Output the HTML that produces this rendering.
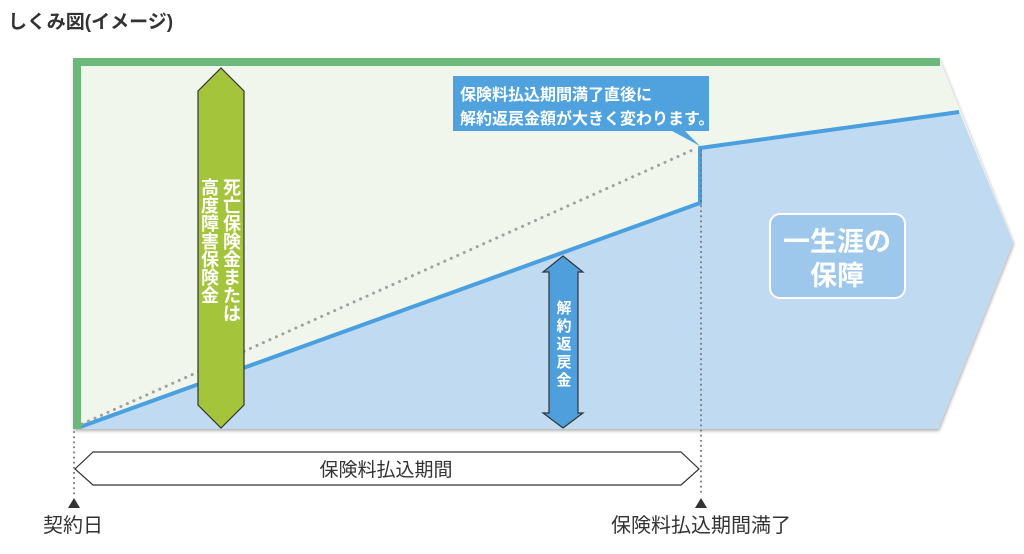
<!DOCTYPE html>
<html><head><meta charset="utf-8"><style>
html,body{margin:0;padding:0;background:#fff;width:1024px;height:554px;overflow:hidden}
svg{display:block}
text{font-family:"Liberation Sans","Noto Sans CJK JP",sans-serif}
</style></head><body>
<svg width="1024" height="554" viewBox="0 0 1024 554">
<defs><filter id="sh" x="-5%" y="-5%" width="110%" height="115%"><feDropShadow dx="1" dy="2" stdDeviation="1.5" flood-color="#000" flood-opacity="0.3"/></filter></defs>
<text x="8" y="28" font-size="19" font-weight="bold" fill="#333">しくみ図(イメージ)</text>
<polygon points="73,58 939,58 1013,242 938,429 73,429" fill="#f0f6ec" filter="url(#sh)"/>
<polygon points="80,428 700,203 700,148 959,111 1013,242 938,429 80,429" fill="#c0daf1"/>
<polyline points="80,427 700,203 700,148 959,112" fill="none" stroke="#4a9fde" stroke-width="4"/>
<line x1="82" y1="424" x2="697" y2="148" stroke="#a0a0a0" stroke-width="3" stroke-dasharray="0.1 7" stroke-linecap="round"/>
<rect x="73" y="58" width="867" height="8" fill="#6cb87a"/>
<rect x="73" y="58" width="8" height="371" fill="#6cb87a"/>
<polygon points="453,76 709,76 709,131 685,131 700,146 672,131 453,131" fill="#50a2de"/>
<text x="460" y="100" font-size="16" font-weight="bold" fill="#fff">保険料払込期間満了直後に</text>
<text x="460" y="124" font-size="16" font-weight="bold" fill="#fff">解約返戻金額が大きく変わります。</text>
<polygon points="221,68 244,91 244,405 221,428 198,405 198,91" fill="#a4c43c" stroke="#333" stroke-width="1.2"/>
<g font-size="18" font-weight="bold" fill="#fff" text-anchor="middle">
<text x="232" y="194">死</text><text x="232" y="212">亡</text><text x="232" y="230">保</text><text x="232" y="248">険</text><text x="232" y="266">金</text><text x="232" y="284">ま</text><text x="232" y="302">た</text><text x="232" y="320">は</text>
<text x="210" y="194">高</text><text x="210" y="212">度</text><text x="210" y="230">障</text><text x="210" y="248">害</text><text x="210" y="266">保</text><text x="210" y="284">険</text><text x="210" y="302">金</text>
</g>
<polygon points="563,256 583,272 578,272 578,413 583,413 563,428 543,413 549,413 549,272 543,272" fill="#4e9fdc" stroke="#333" stroke-width="1.2"/>
<g font-size="15" font-weight="bold" fill="#fff" text-anchor="middle">
<text x="564" y="313">解</text><text x="564" y="331">約</text><text x="564" y="349">返</text><text x="564" y="367">戻</text><text x="564" y="385">金</text>
</g>
<rect x="770" y="214" width="135" height="84" rx="10" fill="#9ec7ec" stroke="#fff" stroke-width="2"/>
<text x="837" y="251" font-size="27" font-weight="bold" fill="#fff" text-anchor="middle">一生涯の</text>
<text x="837" y="285" font-size="27" font-weight="bold" fill="#fff" text-anchor="middle">保障</text>
<line x1="74" y1="432" x2="74" y2="494" stroke="#777" stroke-width="2" stroke-dasharray="0.1 5" stroke-linecap="round"/>
<line x1="701" y1="150" x2="701" y2="494" stroke="#777" stroke-width="2" stroke-dasharray="0.1 5" stroke-linecap="round"/>
<polygon points="93,452 681,452 699,469 681,485 93,485 75,469" fill="#fff" stroke="#333" stroke-width="1.2"/>
<text x="386" y="476" font-size="19" fill="#333" text-anchor="middle">保険料払込期間</text>
<polygon points="74,498 80,508 68,508" fill="#333"/>
<polygon points="701,498 707,508 695,508" fill="#333"/>
<text x="73" y="532" font-size="20" fill="#333" text-anchor="middle">契約日</text>
<text x="701" y="532" font-size="20" fill="#333" text-anchor="middle">保険料払込期間満了</text>
</svg>
</body></html>
